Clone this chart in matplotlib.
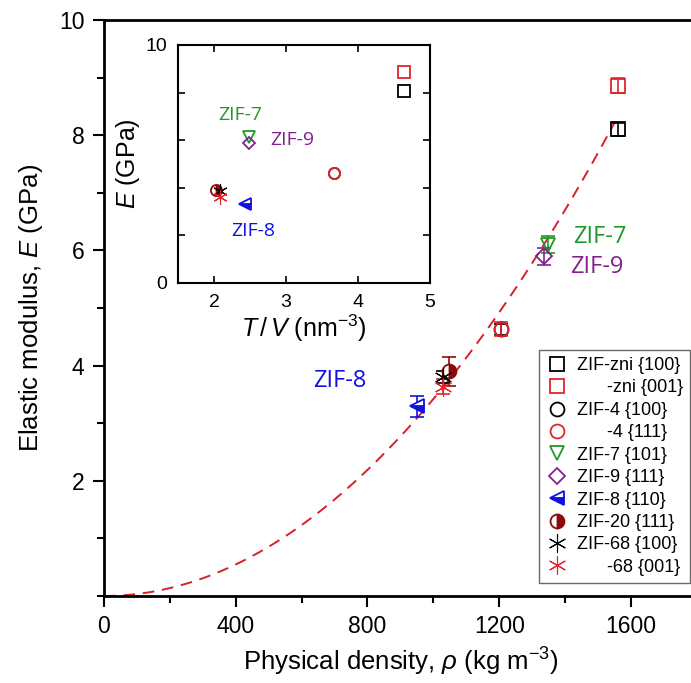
import numpy as np
import matplotlib
matplotlib.use("Agg")
import matplotlib.pyplot as plt
from matplotlib.ticker import MultipleLocator

plt.rcParams['font.family'] = ['Liberation Sans', 'DejaVu Sans']
plt.rcParams['mathtext.fontset'] = 'custom'
plt.rcParams['mathtext.rm'] = 'Liberation Sans'
plt.rcParams['mathtext.it'] = 'Liberation Sans:italic'

# series: label, density (kg m-3), E (GPa), error, T/V (nm-3), E inset
labels = ['ZIF-zni {100}', '      -zni {001}', 'ZIF-4 {100}', '      -4 {111}',
          'ZIF-7 {101}', 'ZIF-9 {111}', 'ZIF-8 {110}', 'ZIF-20 {111}',
          'ZIF-68 {100}', '      -68 {001}']
density = [1560, 1560, 1205, 1205, 1348, 1335, 949, 1047, 1030, 1030]
modulus = [8.10, 8.86, 4.63, 4.63, 6.10, 5.90, 3.29, 3.90, 3.80, 3.63]
mod_err = [0.12, 0.13, 0.10, 0.12, 0.15, 0.15, 0.19, 0.25, 0.10, 0.13]
tv = [4.64, 4.64, 3.66, 3.66, 2.49, 2.49, 2.43, 2.03, 2.08, 2.08]
mod_inset = [8.08, 8.88, 4.63, 4.63, 6.12, 5.87, 3.30, 3.90, 3.85, 3.60]

# fitted E = a * rho^2
fit_a = 3.42e-6
fit_end = 1550

black, red, green = 'black', '#e3242b', '#1f9a26'
purple, blue, dred = '#84208f', '#1010e0', '#8b0a0a'
asterisk = (6, 2, 0)
styles = [
    dict(marker='s', color=black, mfc='none'),
    dict(marker='s', color=red, mfc='none'),
    dict(marker='o', color=black, mfc='none'),
    dict(marker='o', color=red, mfc='none'),
    dict(marker='v', color=green, mfc='none'),
    dict(marker='D', color=purple, mfc='none', ms_scale=0.8),
    dict(marker='<', color=blue, mfc=blue, fillstyle='bottom', mfcalt='white'),
    dict(marker='o', color=dred, mfc=dred, fillstyle='right', mfcalt='white'),
    dict(marker=asterisk, color=black, mfc=black, ms_scale=1.3, mew=0.8),
    dict(marker=asterisk, color=red, mfc=red, ms_scale=1.3, mew=0.8),
]


def draw(ax, xs, ys, ms, with_label):
    for i, st in enumerate(styles):
        kw = dict(marker=st['marker'], color=st['color'], mec=st['color'],
                  mfc=st['mfc'], ms=ms * st.get('ms_scale', 1.0),
                  mew=st.get('mew', 1.3), ls='none')
        if 'fillstyle' in st:
            kw['fillstyle'] = st['fillstyle']
            kw['markerfacecoloralt'] = st['mfcalt']
        ax.plot(xs[i], ys[i], label=labels[i] if with_label else None, **kw)
        if st['marker'] == asterisk:
            ax.plot(xs[i], ys[i], marker='o', ms=ms * 0.22, color=st['color'],
                    ls='none')


fig = plt.figure(figsize=(6.91, 6.83), dpi=100)
ax = fig.add_axes([0.1505, 0.1274, 0.858, 0.8433])

rho = np.linspace(0, fit_end, 200)
ax.plot(rho, fit_a * rho ** 2, ls=(0, (6, 4)), color='#d8202a', lw=1.4)

for i, st in enumerate(styles):
    ax.errorbar(density[i], modulus[i], yerr=mod_err[i], fmt='none',
                ecolor=st['color'], elinewidth=1.2, capsize=5, capthick=1.2)
draw(ax, density, modulus, 10, True)

ax.text(1505, 6.24, 'ZIF-7', color=green, fontsize=17, family='Open Sans',
        ha='center', va='center')
ax.text(1497, 5.72, 'ZIF-9', color=purple, fontsize=17, family='Open Sans',
        ha='center', va='center')
ax.text(716, 3.74, 'ZIF-8', color=blue, fontsize=17, family='Open Sans',
        ha='center', va='center')

ax.set_xlim(0, 1800)
ax.set_ylim(0, 10)
ax.set_xticks([0, 400, 800, 1200, 1600])
ax.xaxis.set_minor_locator(MultipleLocator(200))
ax.set_yticks([2, 4, 6, 8, 10])
ax.yaxis.set_minor_locator(MultipleLocator(1))
ax.tick_params(which='major', direction='out', length=8, width=1.5,
               labelsize=16.5, pad=6)
ax.tick_params(which='minor', direction='out', length=5, width=1.5)
for s in ax.spines.values():
    s.set_linewidth(2)
ax.set_xlabel(r'Physical density, $\rho$ (kg m$^{-3}$)', fontsize=18.5,
              labelpad=5)
ax.set_ylabel(r'Elastic modulus, $E$ (GPa)', fontsize=18.5, labelpad=10)

leg = ax.legend(loc='lower right', bbox_to_anchor=(0.999, 0.1464),
                bbox_transform=fig.transFigure, fontsize=13, frameon=True,
                fancybox=False, edgecolor='#444444', borderpad=0.4,
                labelspacing=0.3, handletextpad=0.5, handlelength=1.2,
                borderaxespad=0)
leg.get_frame().set_linewidth(1.0)

# inset
ins = fig.add_axes([0.2576, 0.5857, 0.3647, 0.3485])
draw(ins, tv, mod_inset, 8, False)
ins.text(2.36, 7.05, 'ZIF-7', color=green, fontsize=14, family='Open Sans',
         ha='center', va='center')
ins.text(3.08, 6.0, 'ZIF-9', color=purple, fontsize=14, family='Open Sans',
         ha='center', va='center')
ins.text(2.55, 2.2, 'ZIF-8', color=blue, fontsize=14, family='Open Sans',
         ha='center', va='center')
ins.set_xlim(1.5, 5)
ins.set_ylim(0, 10)
ins.set_xticks([2, 3, 4, 5])
ins.set_yticks([0, 2, 4, 6, 8, 10])
ins.set_yticklabels(['0', '', '', '', '', '10'])
ins.tick_params(direction='in', length=5, width=1.2, top=True, right=True,
                labelsize=14, pad=8)
for s in ins.spines.values():
    s.set_linewidth(1.5)
ins.set_xlabel(r'$T\,/\,V$ (nm$^{-3}$)', fontsize=18, labelpad=1)
ins.set_ylabel(r'$E$ (GPa)', fontsize=18, labelpad=2)

fig.savefig('out.png', dpi=100)
